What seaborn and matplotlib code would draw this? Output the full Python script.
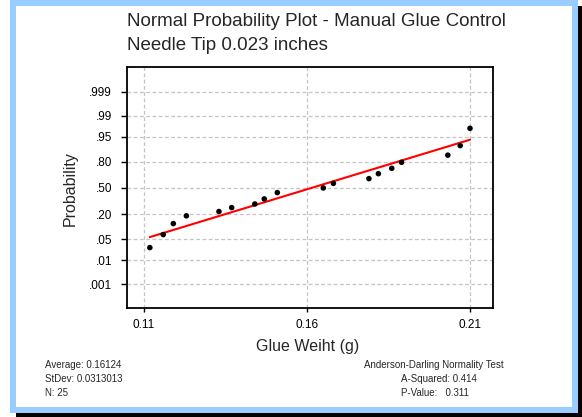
import matplotlib
matplotlib.use("Agg")
import matplotlib.pyplot as plt
from matplotlib.patches import Rectangle
import seaborn as sns
import pandas as pd
import numpy as np
from statistics import NormalDist

# ---- data ----
glue_weight = [0.1118, 0.1159, 0.1190, 0.1190, 0.1230, 0.1330, 0.1369, 0.1440,
               0.1469, 0.1469, 0.1509, 0.1509, 0.1650, 0.1681, 0.1681, 0.1790,
               0.1819, 0.1819, 0.1860, 0.1890, 0.1890, 0.2032, 0.2070, 0.2070,
               0.2100]
prob_ticks = [0.001, 0.01, 0.05, 0.20, 0.50, 0.80, 0.95, 0.99, 0.999]
prob_labels = [".001", ".01", ".05", ".20", ".50", ".80", ".95", ".99", ".999"]
x_ticks = [0.11, 0.16, 0.21]
x_labels = ["0.11", "0.16", "0.21"]
title_lines = ["Normal Probability Plot - Manual Glue Control", "Needle Tip 0.023 inches"]
stats_left = ["Average: 0.16124", "StDev: 0.0313013", "N: 25"]
stats_right_head = "Anderson-Darling Normality Test"
stats_right = ["A-Squared: 0.414", "P-Value:   0.311"]

nd = NormalDist()
x_sorted = sorted(glue_weight)
n = len(x_sorted)
df = pd.DataFrame({"x": x_sorted, "rank": np.arange(1, n + 1)})
pts = df.groupby("x", as_index=False)["rank"].mean()
pts["z"] = [nd.inv_cdf((r - 0.3) / (n + 0.4)) for r in pts["rank"]]
mean = float(np.mean(x_sorted))
sd = float(np.std(x_sorted, ddof=1))
line_x = [min(x_sorted), max(x_sorted)]
line = pd.DataFrame({"x": line_x, "z": [(v - mean) / sd for v in line_x]})

sns.set_theme(style="white")
plt.rcParams['font.family'] = ['Liberation Sans', 'DejaVu Sans']

W, H = 582, 417
fig = plt.figure(figsize=(W / 100, H / 100), dpi=100)
fig.patch.set_facecolor("white")

def px_rect(x0, y0, x1, y1, color):
    fig.add_artist(Rectangle((x0 / W, 1 - y1 / H), (x1 - x0) / W, (y1 - y0) / H,
                             transform=fig.transFigure, facecolor=color,
                             edgecolor="none", zorder=-10))

px_rect(578, 6, 582, 417, "black")
px_rect(16, 413, 582, 417, "black")
px_rect(10, 0, 578, 413, "#99ccff")
px_rect(16, 6, 572, 407, "white")

ax = fig.add_axes([127 / W, 1 - 308 / H, (493 - 127) / W, (308 - 67) / H])
ax.set_facecolor("white")

sns.lineplot(data=line, x="x", y="z", color="#ff0000", linewidth=1.5, ax=ax, zorder=3)
sns.scatterplot(data=pts, x="x", y="z", color="black", s=16, edgecolor="none", ax=ax, zorder=4)

ax.set_xlim(0.10479, 0.21706)
ax.set_ylim(-3.86, 3.89)
ax.set_xticks(x_ticks)
ax.set_xticklabels(x_labels)
ax.set_yticks([nd.inv_cdf(p) for p in prob_ticks])
ax.set_yticklabels(prob_labels)
ax.set_xlabel("")
ax.set_ylabel("")

ax.grid(True, color="#c4c4c4", linestyle=(0, (3, 2)), linewidth=0.9)
ax.set_axisbelow(True)
for s in ax.spines.values():
    s.set_color("black")
    s.set_linewidth(1.3)
    s.set_visible(True)
ax.tick_params(axis="y", direction="out", length=4.3, width=1, pad=6.5,
               labelsize=8.5, colors="black", left=True)
ax.tick_params(axis="x", direction="out", length=3, width=1, pad=5,
               labelsize=8.5, colors="black", bottom=True)

fig.text(127 / W, 1 - 22 / H, title_lines[0], fontsize=13.5, ha="left", va="center")
fig.text(127 / W, 1 - 46 / H, title_lines[1], fontsize=13.5, ha="left", va="center")
fig.text(70 / W, 1 - 189 / H, "Probability", fontsize=11.5, rotation=90, ha="center", va="center")
fig.text(308 / W, 1 - 346 / H, "Glue Weiht (g)", fontsize=11.5, ha="center", va="center")

for i, t in enumerate(stats_left):
    fig.text(45 / W, 1 - (365 + 14 * i) / H, t, fontsize=7, ha="left", va="center")
fig.text(434 / W, 1 - 365 / H, stats_right_head, fontsize=7, ha="center", va="center")
for i, t in enumerate(stats_right):
    fig.text(401 / W, 1 - (379 + 13.5 * i) / H, t, fontsize=7, ha="left", va="center")

fig.savefig("out.png", dpi=100)
